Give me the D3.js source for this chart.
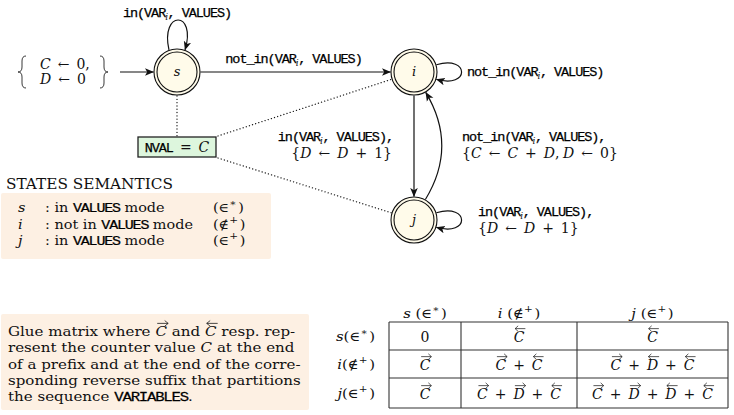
<!DOCTYPE html>
<html><head><meta charset="utf-8">
<script src="https://cdn.jsdelivr.net/npm/d3@7"></script>
<style>
body{margin:0;background:#fff}
svg{display:block}
text{white-space:pre;fill:#111}
.t{font-family:"Liberation Mono",monospace;font-size:13.5px;letter-spacing:-1.05px;fill:#000;stroke:#000;stroke-width:0.25px}
.r{font-family:"DejaVu Serif",serif}
.m{font-family:"DejaVu Serif",serif;font-style:italic}
.sub{font-family:"DejaVu Serif",serif;font-size:9px;font-style:italic}
.sup{font-family:"DejaVu Serif",serif;font-size:9.5px}
</style>
</head><body><svg id="c" width="734" height="415"></svg>
<script>
// ---------------- data ----------------
const states = ["s", "i", "j"];
const stateCol = [0, 1, 1];
const stateRow = [0, 0, 1];
const initLines = ["m:C|r: ← 0,", "m:D|r: ← 0"];
const edges = [
  {from: "s", to: "s", label: ["t:in(VAR|_:i|t:, VALUES)"]},
  {from: "s", to: "i", label: ["t:not_in(VAR|_:i|t:, VALUES)"]},
  {from: "i", to: "i", label: ["t:not_in(VAR|_:i|t:, VALUES)"]},
  {from: "i", to: "j", label: ["t:in(VAR|_:i|t:, VALUES),", "r:{|m:D|r: ← |m:D|r: + 1}"]},
  {from: "j", to: "i", label: ["t:not_in(VAR|_:i|t:, VALUES),", "r:{|m:C|r: ← |m:C|r: + |m:D|r:, |m:D|r: ← 0}"]},
  {from: "j", to: "j", label: ["t:in(VAR|_:i|t:, VALUES),", "r:{|m:D|r: ← |m:D|r: + 1}"]}
];
const invariant = "t:NVAL|r: = |m:C";
const semTitle = "STATES SEMANTICS";
const semDesc = ["r:: in |t:VALUES|r: mode", "r:: not in |t:VALUES|r: mode", "r:: in |t:VALUES|r: mode"];
const semSign = ["r:(∈|^:∗|r:)", "r:(∉|^:+|r:)", "r:(∈|^:+|r:)"];
const glueText = [
  "r:Glue matrix where |R:C|r: and |L:C|r: resp. rep-",
  "r:resent the counter value |m:C|r: at the end",
  "r:of a prefix and at the end of the corre-",
  "r:sponding reverse suffix that partitions",
  "r:the sequence |t:VARIABLES|r:."
];
const glueCells = [
  ["r:0", "L:C", "L:C"],
  ["R:C", "R:C|r: + |L:C", "R:C|r: + |L:D|r: + |L:C"],
  ["R:C", "R:C|r: + |R:D|r: + |L:C", "R:C|r: + |R:D|r: + |L:D|r: + |L:C"]
];

// ---------------- layout / styles ----------------
const svg = d3.select("#c");
const x = d3.scaleLinear().domain([0, 1]).range([177, 414]);
const y = d3.scaleLinear().domain([0, 1]).range([72, 220]);
const R = 23, Ri = 20;
const pos = {};
states.forEach((s, k) => pos[s] = [x(stateCol[k]), y(stateRow[k])]);

const defs = svg.append("defs");
defs.append("marker").attr("id", "ah").attr("viewBox", "0 -5 10 10")
  .attr("refX", 9.5).attr("refY", 0).attr("markerWidth", 9).attr("markerHeight", 9)
  .attr("markerUnits", "userSpaceOnUse").attr("orient", "auto")
  .append("path").attr("d", "M0,-4.2 L10,0 L0,4.2 L2.5,0Z").attr("fill", "#111");

// rich text renderer: opt.size (serif size), opt.math (wide spacing around relations), opt.sx (horizontal stretch)
function rich(g, spec, px, py, anchor, opt) {
  opt = Object.assign({size: 13, math: false, sx: 1}, opt || {});
  const gg = g.append("g");
  let cx = 0;
  const items = spec.split("|").map(seg => {
    const type = seg[0];
    let str = seg.slice(2);
    if (opt.math && type === "r") str = str.replace(/ ?([←+=]) ?/g, "\u2002$1\u2002").replace(/, /g, ",\u2005");
    const cls = {t: "t", r: "r", m: "m", _: "sub", "^": "sup", R: "m", L: "m"}[type];
    const dy = type === "_" ? 3 : type === "^" ? -6 : 0;
    const t = gg.append("text").attr("class", cls).attr("x", cx).attr("y", dy).text(str);
    if (type === "r" || type === "m" || type === "R" || type === "L") t.style("font-size", opt.size + "px");
    const w = t.node().getComputedTextLength();
    const it = {x: cx, w, type};
    cx += w + (type === "_" ? -0.5 : type === "^" ? 1.5 : 0);
    return it;
  });
  const tw = cx * opt.sx;
  const off = anchor === "middle" ? -tw / 2 : anchor === "end" ? -tw : 0;
  gg.attr("transform", `translate(${px + off},${py}) scale(${opt.sx},1)`);
  items.forEach(it => {
    if (it.type === "R" || it.type === "L") {
      const yA = -(opt.size * 0.74 + 3), x0 = it.x + 1.5, x1 = it.x + it.w + 1;
      gg.append("line").attr("x1", x0).attr("x2", x1).attr("y1", yA).attr("y2", yA)
        .attr("stroke", "#111").attr("stroke-width", 0.7);
      const tip = it.type === "R" ? x1 : x0, d = it.type === "R" ? -3 : 3;
      gg.append("path").attr("d", `M${tip + d},${yA - 2.8} L${tip},${yA} L${tip + d},${yA + 2.8}`)
        .attr("fill", "none").attr("stroke", "#111").attr("stroke-width", 0.7);
    }
  });
  return tw;
}
const LBL = {size: 14, math: true};
const TXT = {size: 13, sx: 1.11};
const GLUE = {size: 13, sx: 1.16};

// ---- dotted invariant links
const box = {x: 138, y: 137, w: 78, h: 20};
const dot = svg.append("g").attr("stroke", "#111").attr("stroke-width", 1.3)
  .attr("stroke-dasharray", "0.1,3.2").attr("stroke-linecap", "round").attr("fill", "none");
dot.append("line").attr("x1", pos.s[0]).attr("y1", pos.s[1] + R + 1).attr("x2", pos.s[0]).attr("y2", box.y);
function towards(p, q, r) { const dx = q[0] - p[0], dy = q[1] - p[1], l = Math.hypot(dx, dy); return [p[0] + dx / l * r, p[1] + dy / l * r]; }
const c1 = [box.x + box.w + 2, box.y - 1], c2 = [box.x + box.w + 2, box.y + box.h + 1];
const e1 = towards(pos.i, c1, R + 1), e2 = towards(pos.j, c2, R + 1);
dot.append("line").attr("x1", c1[0]).attr("y1", c1[1]).attr("x2", e1[0]).attr("y2", e1[1]);
dot.append("line").attr("x1", c2[0]).attr("y1", c2[1]).attr("x2", e2[0]).attr("y2", e2[1]);

// ---- invariant box
svg.append("rect").attr("x", box.x).attr("y", box.y).attr("width", box.w).attr("height", box.h)
  .attr("fill", "#ddf6dd").attr("stroke", "#222").attr("stroke-width", 1.3);
rich(svg, invariant, box.x + box.w / 2, box.y + 15, "middle", LBL);

// ---- edges
const eg = svg.append("g").attr("fill", "none").attr("stroke", "#111").attr("stroke-width", 1.2);
function pt(c, a, r) { return [c[0] + r * Math.cos(a), c[1] + r * Math.sin(a)]; }
const deg = Math.PI / 180;
edges.forEach(e => {
  const p = pos[e.from], q = pos[e.to];
  const lab = svg.append("g");
  if (e.from === e.to) {
    if (e.from === "s") {
      const a = pt(p, -110 * deg, R + 0.5), b = pt(p, -70 * deg, R + 0.5);
      eg.append("path").attr("d", `M${a} C${p[0] - 17},${p[1] - 62} ${p[0] + 20},${p[1] - 62} ${b}`).attr("marker-end", "url(#ah)");
      rich(lab, e.label[0], p[0], p[1] - 55, "middle", LBL);
    } else {
      const a = pt(p, -18 * deg, R + 0.5), b = pt(p, 18 * deg, R + 0.5);
      eg.append("path").attr("d", `M${a} C${p[0] + 56},${p[1] - 17} ${p[0] + 56},${p[1] + 17} ${b}`).attr("marker-end", "url(#ah)");
      if (e.label.length === 1) rich(lab, e.label[0], p[0] + 53, p[1] + 4, "start", LBL);
      else { rich(lab, e.label[0], p[0] + 64, p[1] - 4, "start", LBL); rich(lab, e.label[1], p[0] + 64, p[1] + 13, "start", LBL); }
    }
  } else if (p[1] === q[1]) {
    eg.append("line").attr("x1", p[0] + R + 0.5).attr("y1", p[1]).attr("x2", q[0] - R - 0.5).attr("y2", q[1]).attr("marker-end", "url(#ah)");
    rich(lab, e.label[0], (p[0] + q[0]) / 2 - 2, p[1] - 9, "middle", LBL);
  } else if (p[1] < q[1]) {
    eg.append("line").attr("x1", p[0]).attr("y1", p[1] + R + 0.5).attr("x2", q[0]).attr("y2", q[1] - R - 0.5).attr("marker-end", "url(#ah)");
    const my = (p[1] + q[1]) / 2;
    rich(lab, e.label[0], p[0] - 21, my - 5, "end", LBL);
    rich(lab, e.label[1], p[0] - 22, my + 12, "end", LBL);
  } else {
    const a = pt(p, -61 * deg, R + 0.5), b = pt(q, 60 * deg, R + 0.5);
    eg.append("path").attr("d", `M${a} Q${p[0] + 44},${(p[1] + q[1]) / 2} ${b}`).attr("marker-end", "url(#ah)");
    const my = (p[1] + q[1]) / 2;
    rich(lab, e.label[0], p[0] + 48, my - 5, "start", LBL);
    rich(lab, e.label[1], p[0] + 48, my + 12, "start", LBL);
  }
});

// ---- initial arrow & braces
const ps = pos.s;
eg.append("line").attr("x1", ps[0] - 57).attr("y1", ps[1]).attr("x2", ps[0] - R - 0.5).attr("y2", ps[1]).attr("marker-end", "url(#ah)");
const br = svg.append("g").attr("fill", "none").attr("stroke", "#222").attr("stroke-width", 0.9);
function brace(xc, top, bot, dir) {
  const m = (top + bot) / 2, k = 4 * dir;
  return `M${xc + k},${top} Q${xc},${top} ${xc},${top + 5} L${xc},${m - 5} Q${xc},${m} ${xc - k},${m} Q${xc},${m} ${xc},${m + 5} L${xc},${bot - 5} Q${xc},${bot} ${xc + k},${bot}`;
}
br.append("path").attr("d", brace(22, ps[1] - 16, ps[1] + 16, 1));
br.append("path").attr("d", brace(104, ps[1] - 16, ps[1] + 16, -1));
rich(svg, initLines[0], 40, ps[1] - 3, "start", LBL);
rich(svg, initLines[1], 40, ps[1] + 12, "start", LBL);

// ---- nodes
const ng = svg.selectAll("g.node").data(states).join("g").attr("class", "node")
  .attr("transform", d => `translate(${pos[d]})`);
ng.append("circle").attr("r", R).attr("fill", "#fffbea").attr("stroke", "#111").attr("stroke-width", 1.1);
ng.append("circle").attr("r", Ri).attr("fill", "none").attr("stroke", "#111").attr("stroke-width", 1.1);
ng.each(function (d) { rich(d3.select(this), "m:" + d, 0, 4, "middle", {size: 13}); });

// ---- states semantics
svg.append("text").attr("class", "r").style("font-size", "15.3px").attr("x", 6).attr("y", 189).text(semTitle);
svg.append("rect").attr("x", 1).attr("y", 193).attr("width", 270).attr("height", 66).attr("rx", 2)
  .attr("fill", "#fdf0e3");
const semY = d3.scaleLinear().domain([0, 2]).range([212, 245]);
states.forEach((s, k) => {
  rich(svg, "m:" + s, 18, semY(k), "start", TXT);
  rich(svg, semDesc[k], 45, semY(k), "start", TXT);
  rich(svg, semSign[k], 213, semY(k), "start", TXT);
});

// ---- glue text
svg.append("rect").attr("x", 1).attr("y", 314).attr("width", 308).attr("height", 96).attr("rx", 2)
  .attr("fill", "#fdf0e3");
const glueY = d3.scaleLinear().domain([0, 4]).range([336, 401]);
glueText.forEach((l, k) => rich(svg, l, 8, glueY(k), "start", GLUE));

// ---- glue matrix table
const TBL = {size: 14, math: true};
const colX = d3.scaleLinear().domain([0, 1, 2, 3]).range([389, 461, 577, 728]);
const rowY = d3.scaleLinear().domain([0, 1, 2, 3]).range([322, 350, 378, 408]);
const tg = svg.append("g").attr("stroke", "#333").attr("stroke-width", 1.1);
[0, 1, 2, 3].forEach(k => {
  tg.append("line").attr("x1", colX(0)).attr("x2", colX(3)).attr("y1", rowY(k)).attr("y2", rowY(k));
  tg.append("line").attr("x1", colX(k)).attr("x2", colX(k)).attr("y1", rowY(0)).attr("y2", rowY(3));
});
states.forEach((s, k) => {
  rich(svg, "m:" + s + "|r: " + semSign[k].slice(2), (colX(k) + colX(k + 1)) / 2, 318, "middle", {size: 13.5, sx: 1.1});
  rich(svg, "m:" + s + "|" + semSign[k], 375, (rowY(k) + rowY(k + 1)) / 2 + 5, "end", {size: 13.5, sx: 1.1});
  glueCells[k].forEach((c, m) => rich(svg, c, (colX(m) + colX(m + 1)) / 2, (rowY(k) + rowY(k + 1)) / 2 + 6, "middle", TBL));
});
</script>
</body></html>
